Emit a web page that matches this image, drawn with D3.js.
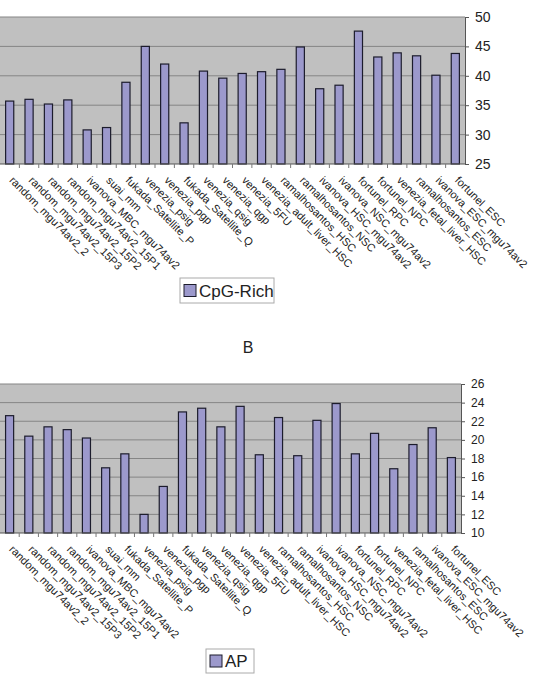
<!DOCTYPE html>
<html>
<head>
<meta charset="utf-8">
<script src="https://cdn.jsdelivr.net/npm/d3@7"></script>
<style>
  body { margin: 0; background: #fff; }
  svg { display: block; font-family: "Liberation Sans", Arial, sans-serif; }
</style>
</head>
<body>
<svg id="chart" width="553" height="679"></svg>
<script>
const categories = [
    "random_mgu74av2_2", "random_mgu74av2_15P3", "random_mgu74av2_15P2", "random_mgu74av2_15P1",
    "ivanova_MBC_mgu74av2", "suai_mm", "fukada_Satellite_P", "venezia_psig", "venezia_pgp",
    "fukada_Satellite_Q", "venezia_qsig", "venezia_qgp", "venezia_5FU", "venezia_adult_liver_HSC",
    "ramalhosantos_HSC", "ramalhosantos_NSC", "ivanova_HSC_mgu74av2", "ivanova_NSC_mgu74av2",
    "fortunel_RPC", "fortunel_NPC", "venezia_fetal_liver_HSC", "ramalhosantos_ESC",
    "ivanova_ESC_mgu74av2", "fortunel_ESC"
];
const cpgValues = [35.7, 36.0, 35.2, 35.9, 30.8, 31.2, 38.9, 45.0, 42.0, 32.0, 40.8, 39.6,
    40.4, 40.7, 41.1, 44.9, 37.8, 38.4, 47.6, 43.2, 43.9, 43.4, 40.1, 43.8];
const apValues = [22.6, 20.4, 21.4, 21.1, 20.2, 17.0, 18.5, 12.0, 15.0, 23.0, 23.4, 21.4,
    23.6, 18.4, 22.4, 18.3, 22.1, 23.9, 18.5, 20.7, 16.9, 19.5, 21.3, 18.1];
const cpgTicks = [25, 30, 35, 40, 45, 50];
const apTicks = [10, 12, 14, 16, 18, 20, 22, 24, 26];

const svg = d3.select("#chart");

function drawPanel(values, ticks, conf) {
    let g = svg.append("g");
    let x = d3.scaleBand()
        .domain(categories)
        .range([conf.left, conf.right])
        .paddingInner(0.58)
        .paddingOuter(0.29);
    let y = d3.scaleLinear()
        .domain([ticks[0], ticks[ticks.length - 1]])
        .range([conf.bottom, conf.top]);

    // plot background
    g.append("rect")
        .attr("x", conf.left)
        .attr("y", conf.top)
        .attr("width", conf.right - conf.left)
        .attr("height", conf.bottom - conf.top)
        .attr("fill", "#c0c0c0");

    // gridlines
    g.selectAll(".grid").data(ticks.slice(1))
        .enter().append("line")
        .attr("x1", conf.left)
        .attr("x2", conf.right)
        .attr("y1", d => y(d))
        .attr("y2", d => y(d))
        .attr("stroke", "#858585")
        .attr("stroke-width", 1);

    // bars
    g.selectAll(".bar").data(values)
        .enter().append("rect")
        .attr("x", (d, i) => x(categories[i]))
        .attr("y", d => y(d))
        .attr("width", x.bandwidth())
        .attr("height", d => conf.bottom - y(d))
        .attr("fill", "#9c99cc")
        .attr("stroke", "#1c1c2c")
        .attr("stroke-width", 1.2);

    // right axis
    let yAxis = d3.axisRight(y).tickValues(ticks).tickSize(4).tickPadding(6);
    let ya = g.append("g")
        .attr("transform", "translate(" + conf.right + ",0)")
        .call(yAxis);
    ya.select(".domain").attr("stroke", "#555");
    ya.selectAll(".tick line").attr("stroke", "#555");
    ya.selectAll("text")
        .attr("font-size", conf.tickFont)
        .attr("fill", "#222");

    // bottom axis line with ticks at category boundaries
    g.append("line")
        .attr("x1", conf.left)
        .attr("x2", conf.right)
        .attr("y1", conf.bottom)
        .attr("y2", conf.bottom)
        .attr("stroke", "#555");
    let step = x.step();
    g.selectAll(".xtick").data(d3.range(1, categories.length))
        .enter().append("line")
        .attr("x1", d => conf.left + d * step)
        .attr("x2", d => conf.left + d * step)
        .attr("y1", conf.bottom)
        .attr("y2", conf.bottom + 4)
        .attr("stroke", "#777");

    // rotated category labels
    g.selectAll(".xlabel").data(categories)
        .enter().append("text")
        .attr("transform", d => "translate(" + (x(d) + x.bandwidth() / 2 - 1) + "," + (conf.bottom + 17) + ") rotate(45)")
        .attr("font-size", 11)
        .attr("fill", "#222")
        .text(d => d);

    // legend
    let lg = g.append("g");
    lg.append("rect")
        .attr("x", conf.legend.x)
        .attr("y", conf.legend.y)
        .attr("width", conf.legend.w)
        .attr("height", conf.legend.h)
        .attr("fill", "#fff")
        .attr("stroke", "#aaa");
    lg.append("rect")
        .attr("x", conf.legend.x + 4)
        .attr("y", conf.legend.y + (conf.legend.h - 12) / 2)
        .attr("width", 12)
        .attr("height", 12)
        .attr("fill", "#9c99cc")
        .attr("stroke", "#1c1c2c");
    lg.append("text")
        .attr("x", conf.legend.x + 19)
        .attr("y", conf.legend.y + conf.legend.h / 2 + 6)
        .attr("font-size", 17)
        .attr("fill", "#222")
        .text(conf.name);
}

drawPanel(cpgValues, cpgTicks, {
    left: 0, right: 465, top: 17, bottom: 164, tickFont: 14,
    name: "CpG-Rich",
    legend: {x: 180, y: 278, w: 94, h: 25}
});

drawPanel(apValues, apTicks, {
    left: 0, right: 461, top: 384, bottom: 533, tickFont: 12,
    name: "AP",
    legend: {x: 206, y: 649, w: 48, h: 24}
});

svg.append("text")
    .attr("x", 248)
    .attr("y", 353)
    .attr("text-anchor", "middle")
    .attr("font-size", 16)
    .attr("fill", "#222")
    .text("B");
</script>
</body>
</html>
